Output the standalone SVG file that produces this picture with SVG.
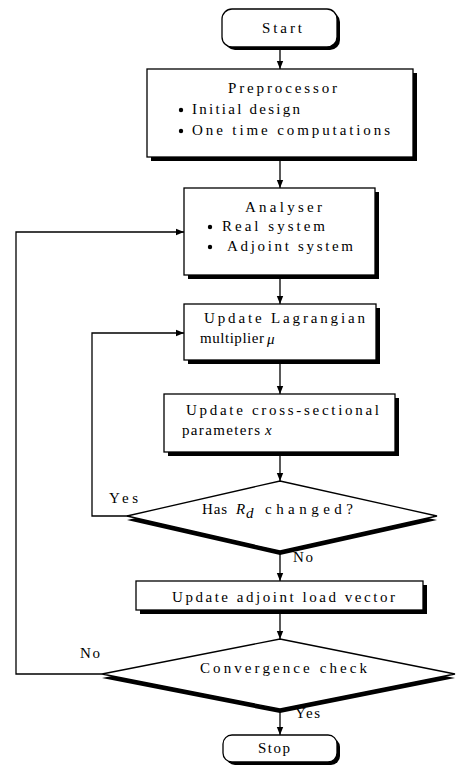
<svg xmlns="http://www.w3.org/2000/svg" width="457" height="771" viewBox="0 0 457 771">
<style>
text{font-family:"Liberation Serif","Times New Roman",serif;font-size:15px;fill:#000}
.i{font-style:italic}
.box{fill:#fff;stroke:#000;stroke-width:1.3}
.sh{fill:#000}
.ln{fill:none;stroke:#000;stroke-width:1.3}
</style>
<defs>
<marker id="ah" viewBox="0 0 8 8" refX="8" refY="4" markerWidth="8" markerHeight="8" markerUnits="userSpaceOnUse" orient="auto">
<path d="M0,0.8 L8,4 L0,7.2 Z" fill="#000"/>
</marker>
</defs>
<rect width="457" height="771" fill="#fff"/>

<g id="connectors">
<line class="ln" x1="280" y1="47" x2="280" y2="69" marker-end="url(#ah)"/>
<line class="ln" x1="280" y1="161" x2="280" y2="188" marker-end="url(#ah)"/>
<line class="ln" x1="280" y1="279" x2="280" y2="304" marker-end="url(#ah)"/>
<line class="ln" x1="280" y1="364" x2="280" y2="394" marker-end="url(#ah)"/>
<line class="ln" x1="280" y1="456" x2="280" y2="481" marker-end="url(#ah)"/>
<line class="ln" x1="280" y1="553" x2="280" y2="581" marker-end="url(#ah)"/>
<line class="ln" x1="280" y1="614" x2="280" y2="639" marker-end="url(#ah)"/>
<line class="ln" x1="280" y1="711" x2="280" y2="735" marker-end="url(#ah)"/>
<polyline class="ln" points="128,516 92,516 92,333 184,333" marker-end="url(#ah)"/>
<polyline class="ln" points="102,674 16,674 16,232 184,232" marker-end="url(#ah)"/>
<text x="109" y="503" textLength="29" lengthAdjust="spacing">Yes</text>
<text x="293" y="562" textLength="20" lengthAdjust="spacing">No</text>
<text x="80" y="658" textLength="20" lengthAdjust="spacing">No</text>
<text x="295" y="718" textLength="25" lengthAdjust="spacing">Yes</text>
</g>

<g id="start">
<rect class="sh" x="225" y="12" width="115" height="38" rx="10"/>
<rect class="box" x="222" y="9" width="115" height="38" rx="10"/>
<text x="262" y="33" textLength="40" lengthAdjust="spacing">Start</text>
</g>

<g id="preprocessor">
<rect class="sh" x="151" y="73" width="266" height="88"/>
<rect class="box" x="147" y="69" width="266" height="88"/>
<text x="228" y="93" textLength="109" lengthAdjust="spacing">Preprocessor</text>
<circle cx="181" cy="110" r="2.2"/>
<text x="192" y="114" textLength="108" lengthAdjust="spacing">Initial design</text>
<circle cx="181" cy="131" r="2.2"/>
<text x="192" y="135" textLength="198" lengthAdjust="spacing">One time computations</text>
</g>

<g id="analyser">
<rect class="sh" x="188" y="192" width="191" height="87"/>
<rect class="box" x="184" y="188" width="191" height="87"/>
<text x="245" y="212" textLength="77" lengthAdjust="spacing">Analyser</text>
<circle cx="210" cy="227" r="2.2"/>
<text x="222" y="231" textLength="103" lengthAdjust="spacing">Real system</text>
<circle cx="210" cy="247" r="2.2"/>
<text x="227" y="251" textLength="126" lengthAdjust="spacing">Adjoint system</text>
</g>

<g id="lagrangian">
<rect class="sh" x="188" y="308" width="192" height="56"/>
<rect class="box" x="184" y="304" width="192" height="56"/>
<text x="204" y="323" textLength="161" lengthAdjust="spacing">Update Lagrangian</text>
<text x="200" y="343" textLength="64" lengthAdjust="spacing">multiplier</text>
<text class="i" x="267" y="344" font-size="16">μ</text>
</g>

<g id="cross">
<rect class="sh" x="168" y="398" width="231" height="58"/>
<rect class="box" x="164" y="394" width="231" height="58"/>
<text x="186" y="415" textLength="193" lengthAdjust="spacing">Update cross-sectional</text>
<text x="182" y="435" textLength="78" lengthAdjust="spacing">parameters</text>
<text class="i" x="265" y="435">x</text>
</g>

<g id="decision-rd">
<polygon class="sh" points="280,485 437,520 280,555 127,520"/>
<polygon class="box" points="280,481 437,516 280,551 127,516"/>
<text x="202" y="514" textLength="25" lengthAdjust="spacing">Has</text>
<text class="i" x="236" y="514">R</text>
<text class="i" x="246" y="518" font-size="10">d</text>
<text x="265" y="514" textLength="88" lengthAdjust="spacing">changed?</text>
</g>

<g id="adjoint">
<rect class="sh" x="140" y="585" width="287" height="29"/>
<rect class="box" x="136" y="581" width="287" height="29"/>
<text x="172" y="602" textLength="223" lengthAdjust="spacing">Update adjoint load vector</text>
</g>

<g id="convergence">
<polygon class="sh" points="280,643 455,678 280,713 102,678"/>
<polygon class="box" points="280,639 455,674 280,709 102,674"/>
<text x="200" y="673" textLength="167" lengthAdjust="spacing">Convergence check</text>
</g>

<g id="stop">
<rect class="sh" x="226" y="738" width="114" height="27" rx="9"/>
<rect class="box" x="223" y="735" width="114" height="27" rx="9"/>
<text x="258" y="753" textLength="32" lengthAdjust="spacing">Stop</text>
</g>
</svg>
